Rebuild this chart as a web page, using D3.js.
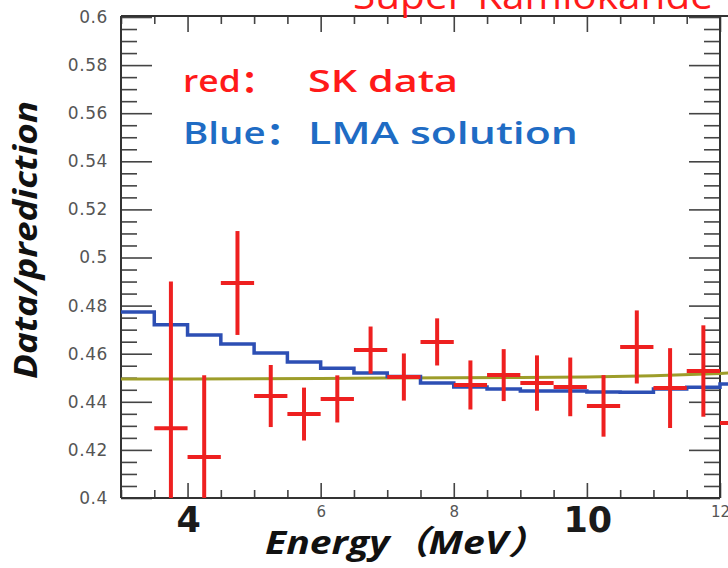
<!DOCTYPE html>
<html>
<head>
<meta charset="utf-8">
<script src="https://cdn.jsdelivr.net/npm/d3@7"></script>
<style>
  body { margin: 0; background: #fff; }
  svg { display: block; }
  .axis path { display: none; }
  .axis line { stroke: #444; stroke-width: 1.6; }
  .axis text { fill: #555; font-family: 'DejaVu Sans', sans-serif; }
</style>
</head>
<body>
<div class="chart"></div>
<script>
// SK data points (bin centres in MeV), ratio and error
const energies = [3.75, 4.25, 4.75, 5.25, 5.75, 6.25, 6.75, 7.25, 7.75, 8.25, 8.75, 9.25, 9.75, 10.25, 10.75, 11.25, 11.75, 12.25];
const ratios = [0.429, 0.417, 0.4894, 0.4424, 0.4349, 0.4412, 0.4615, 0.4503, 0.4649, 0.447, 0.4511, 0.4478, 0.4462, 0.4383, 0.4628, 0.4457, 0.4528, 0.4312];
const errors = [0.061, 0.034, 0.0216, 0.0129, 0.011, 0.0098, 0.0098, 0.0098, 0.0098, 0.0102, 0.0108, 0.0115, 0.0122, 0.0128, 0.0152, 0.0166, 0.019, 0.02];
const binHalf = 0.25;

// LMA solution, step per 0.5 MeV bin (bin start)
const lmaStart = [3, 3.5, 4, 4.5, 5, 5.5, 6, 6.5, 7, 7.5, 8, 8.5, 9, 9.5, 10, 10.5, 11, 11.5, 12, 12.5];
const lmaValues = [0.4773, 0.472, 0.4678, 0.464, 0.4603, 0.4565, 0.454, 0.452, 0.4505, 0.4478, 0.4462, 0.4453, 0.4445, 0.4445, 0.4441, 0.444, 0.4453, 0.446, 0.4474, 0.4474];

// flat (olive) line
const flatE = [3, 4, 5, 6, 7, 8, 9, 10, 11, 12, 12.5];
const flatValues = [0.4495, 0.4495, 0.4496, 0.4497, 0.4499, 0.45, 0.4501, 0.4503, 0.4508, 0.4518, 0.4526];

const yTicks = [0.4, 0.42, 0.44, 0.46, 0.48, 0.5, 0.52, 0.54, 0.56, 0.58, 0.6];
const xTicks = [4, 6, 8, 10, 12];
const bigXLabels = [4, 10];

const legendKeys = ['red：', 'Blue：'];
const legendNames = ['SK data', 'LMA solution'];

const svg = d3.select('.chart').append('svg')
  .attr('width', 728).attr('height', 568);

const mLeft = 121, mRight = 720, mTop = 17, mBottom = 498;

const x = d3.scaleLinear().domain([3, 12]).range([mLeft, mRight]);
const y = d3.scaleLinear().domain([0.4, 0.6]).range([mBottom, mTop]);

const minorY = d3.range(0.4, 0.6001, 0.005).filter(function(v) {
  return Math.abs(Math.round(v / 0.02) * 0.02 - v) > 1e-6;
});
const minorX = d3.range(3, 12.01, 0.5).filter(function(v) { return v % 2 !== 0; });

// axes
svg.append('g').attr('class', 'axis')
  .attr('transform', 'translate(' + mLeft + ',0)')
  .call(d3.axisLeft(y).tickValues(yTicks).tickSizeInner(-31).tickSizeOuter(0).tickPadding(13)
    .tickFormat(function(d) { return d3.format('')(+d.toFixed(2)); }))
  .selectAll('text').style('font-size', '17px').style('letter-spacing', '0.6px');

svg.append('g').attr('class', 'axis')
  .attr('transform', 'translate(' + mLeft + ',0)')
  .call(d3.axisLeft(y).tickValues(minorY).tickSizeInner(-16).tickSizeOuter(0).tickFormat(''));

svg.append('g').attr('class', 'axis')
  .attr('transform', 'translate(' + mRight + ',0)')
  .call(d3.axisRight(y).tickValues(yTicks).tickSizeInner(-31).tickSizeOuter(0).tickFormat(''));

svg.append('g').attr('class', 'axis')
  .attr('transform', 'translate(' + mRight + ',0)')
  .call(d3.axisRight(y).tickValues(minorY).tickSizeInner(-16).tickSizeOuter(0).tickFormat(''));

svg.append('g').attr('class', 'axis')
  .attr('transform', 'translate(0,' + mBottom + ')')
  .call(d3.axisBottom(x).tickValues(xTicks).tickSizeInner(-15).tickSizeOuter(0).tickPadding(8)
    .tickFormat(function(d) { return bigXLabels.indexOf(d) >= 0 ? '' : d; }))
  .selectAll('text').style('font-size', '15px');

svg.append('g').attr('class', 'axis')
  .attr('transform', 'translate(0,' + mBottom + ')')
  .call(d3.axisBottom(x).tickValues(minorX).tickSizeInner(-8).tickSizeOuter(0).tickFormat(''));

svg.append('g').attr('class', 'axis')
  .attr('transform', 'translate(0,' + mTop + ')')
  .call(d3.axisTop(x).tickValues(xTicks).tickSizeInner(-15).tickSizeOuter(0).tickFormat(''));

svg.append('g').attr('class', 'axis')
  .attr('transform', 'translate(0,' + mTop + ')')
  .call(d3.axisTop(x).tickValues(minorX).tickSizeInner(-7).tickSizeOuter(0).tickFormat(''));

// frame
const frame = svg.append('g').attr('stroke', '#333').attr('stroke-width', 2).attr('fill', 'none');
frame.append('line').attr('x1', mLeft).attr('x2', mLeft).attr('y1', mTop - 1).attr('y2', mBottom);
frame.append('line').attr('x1', mLeft).attr('x2', mRight).attr('y1', mBottom).attr('y2', mBottom);
frame.append('line').attr('x1', mRight).attr('x2', mRight).attr('y1', mTop - 1).attr('y2', mBottom);
frame.append('line').attr('x1', mLeft).attr('x2', 728).attr('y1', mTop - 1).attr('y2', mTop - 1);

// plot area
svg.append('clipPath').attr('id', 'plot')
  .append('rect').attr('x', mLeft).attr('y', mTop).attr('width', 728 - mLeft).attr('height', mBottom - mTop);

const plot = svg.append('g').attr('clip-path', 'url(#plot)');

plot.append('path')
  .datum(flatE.map(function(e, i) { return [e, flatValues[i]]; }))
  .attr('fill', 'none').attr('stroke', '#9d9d2a').attr('stroke-width', 3)
  .attr('d', d3.line().x(function(d) { return x(d[0]); }).y(function(d) { return y(d[1]); }));

plot.append('path')
  .datum(lmaStart.map(function(e, i) { return [e, lmaValues[i]]; }))
  .attr('fill', 'none').attr('stroke', '#2d4fb4').attr('stroke-width', 3.5)
  .attr('d', d3.line().curve(d3.curveStepAfter).x(function(d) { return x(d[0]); }).y(function(d) { return y(d[1]); }));

const pts = plot.selectAll('.pt')
  .data(energies.map(function(e, i) { return { e: e, v: ratios[i], err: errors[i] }; }))
  .enter().append('g').attr('class', 'pt')
  .attr('stroke', '#ee2020').attr('stroke-width', 4);

pts.append('line')
  .attr('x1', function(d) { return x(d.e); }).attr('x2', function(d) { return x(d.e); })
  .attr('y1', function(d) { return y(d.v - d.err); }).attr('y2', function(d) { return y(d.v + d.err); });

pts.append('line')
  .attr('x1', function(d) { return x(d.e - binHalf); }).attr('x2', function(d) { return x(d.e + binHalf); })
  .attr('y1', function(d) { return y(d.v); }).attr('y2', function(d) { return y(d.v); });

// big overlay tick labels
svg.selectAll('.big')
  .data(bigXLabels)
  .enter().append('text').attr('class', 'big')
  .attr('x', function(d) { return x(d) + 1; }).attr('y', 532)
  .attr('text-anchor', 'middle')
  .style('font-family', "'DejaVu Sans', sans-serif").style('font-weight', 'bold')
  .style('font-size', '35px').attr('fill', '#1a1a1a')
  .text(function(d) { return d; });

// titles
svg.append('text')
  .attr('transform', 'translate(37,240) rotate(-90)')
  .attr('text-anchor', 'middle')
  .attr('textLength', 278).attr('lengthAdjust', 'spacingAndGlyphs')
  .style('font-family', "'Open Sans', sans-serif").style('font-weight', 'bold').style('font-style', 'italic')
  .style('font-size', '32px').attr('fill', '#111')
  .text('Data/prediction');

svg.append('text')
  .attr('x', 265).attr('y', 554)
  .attr('textLength', 282).attr('lengthAdjust', 'spacingAndGlyphs')
  .style('font-family', "'Open Sans', 'Noto Sans CJK SC', sans-serif").style('font-weight', 'bold').style('font-style', 'italic')
  .style('font-size', '33px').attr('fill', '#111')
  .text('Energy（MeV）');

svg.append('text')
  .attr('x', 353).attr('y', 9)
  .attr('textLength', 360).attr('lengthAdjust', 'spacingAndGlyphs')
  .style('font-family', "'Open Sans', sans-serif")
  .style('font-size', '38px').attr('fill', '#ff1a1a')
  .text('Super-Kamiokande');

// legend
const legendColors = ['#ff1a1a', '#1f6cc4'];
const legendKeyLen = [93, 121];
const legendNameLen = [150, 270];
const legendY = [92, 144];

legendKeys.forEach(function(k, i) {
  svg.append('text')
    .attr('x', 183).attr('y', legendY[i])
    .attr('textLength', legendKeyLen[i]).attr('lengthAdjust', 'spacingAndGlyphs')
    .style('font-family', "'Open Sans', 'Noto Sans CJK SC', sans-serif").style('font-weight', 600)
    .style('font-size', '31px').attr('fill', legendColors[i])
    .text(k);
  svg.append('text')
    .attr('x', 308).attr('y', legendY[i])
    .attr('textLength', legendNameLen[i]).attr('lengthAdjust', 'spacingAndGlyphs')
    .style('font-family', "'Open Sans', sans-serif").style('font-weight', 600)
    .style('font-size', '31px').attr('fill', legendColors[i])
    .text(legendNames[i]);
});
</script>
</body>
</html>
